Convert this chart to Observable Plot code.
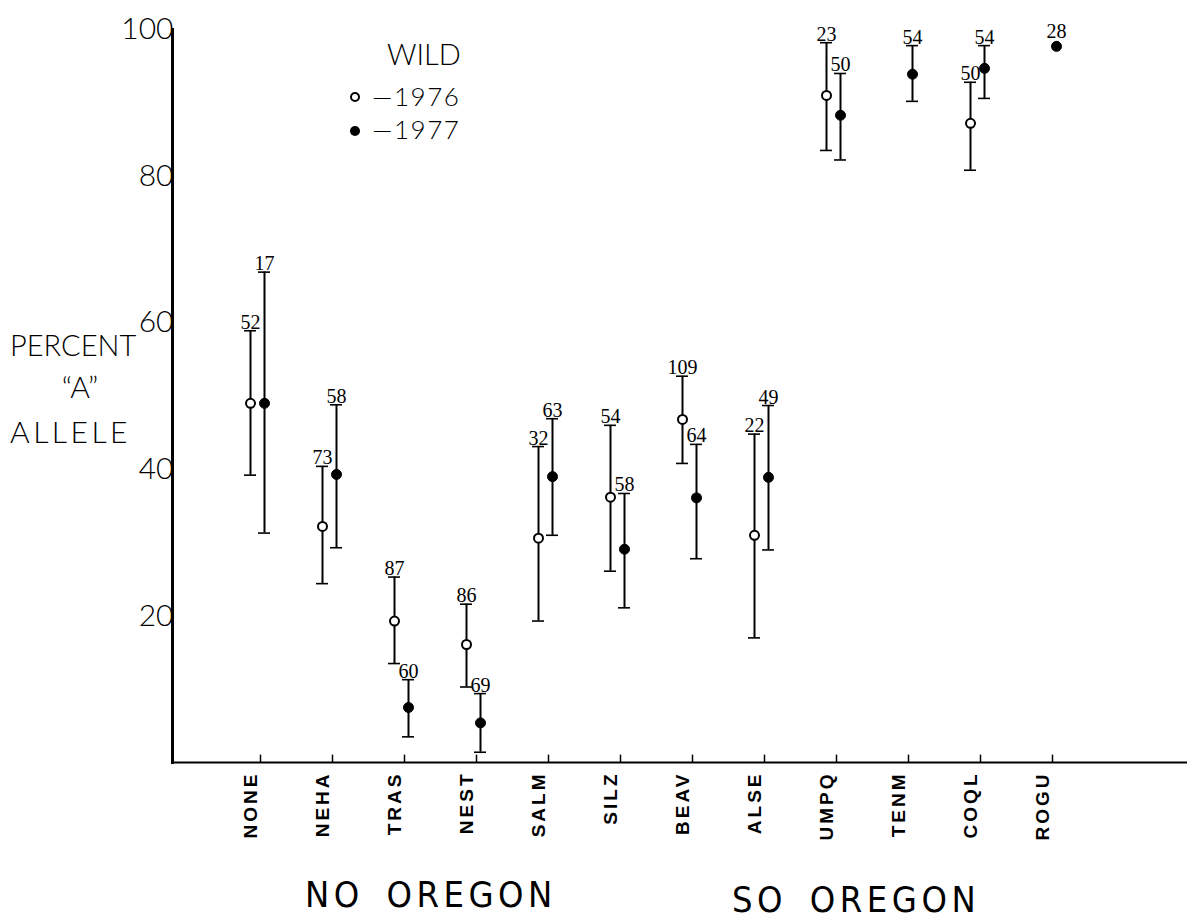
<!DOCTYPE html>
<html><head><meta charset="utf-8">
<script src="https://cdn.jsdelivr.net/npm/d3@7"></script>
<script src="https://cdn.jsdelivr.net/npm/@observablehq/plot@0.6"></script>
<style>
body{margin:0;background:#fff;}
#wrap{position:relative;width:1187px;height:921px;overflow:hidden;}
#wrap svg{position:absolute;left:0;top:0;}
#wrap svg.overlay{pointer-events:none;}
</style></head><body><div id="wrap"></div>
<script>
// Sites (x categories)
const categories = ["NONE","NEHA","TRAS","NEST","SALM","SILZ","BEAV","ALSE","UMPQ","TENM","COQL","ROGU"];
// Wild 1976: percent "A" allele, interval low/high, sample size
const mean1976 = [49.0, 32.2, 19.3, 16.1, 30.6, 36.2, 46.8, 31.0, 91.0, null, 87.2, null];
const low1976  = [39.2, 24.4, 13.5, 10.3, 19.3, 26.1, 40.8, 17.0, 83.5, null, 80.8, null];
const high1976 = [58.9, 40.4, 25.3, 21.6, 43.1, 46.0, 52.7, 44.8, 98.2, null, 92.8, null];
const n1976    = [52, 73, 87, 86, 32, 54, 109, 22, 23, null, 50, null];
// Wild 1977
const mean1977 = [49.0, 39.3, 7.5, 5.4, 39.0, 29.1, 36.1, 38.9, 88.3, 93.9, 94.7, 97.7];
const low1977  = [31.3, 29.3, 3.5, 1.4, 31.0, 21.1, 27.8, 29.0, 82.2, 90.2, 90.6, null];
const high1977 = [66.9, 48.8, 11.3, 9.4, 46.9, 36.7, 43.4, 48.7, 94.0, 97.8, 97.8, null];
const n1977    = [17, 58, 60, 69, 63, 58, 64, 49, 50, 54, 54, 28];
// y tick labels
const yTicks = [20, 40, 60, 80, 100];

function build(year, mean, low, high, n) {
  const out = [];
  categories.forEach((c, i) => {
    if (mean[i] != null) out.push({site: c, year, v: mean[i], lo: low[i], hi: high[i], n: n[i]});
  });
  return out;
}
const r76 = build(1976, mean1976, low1976, high1976, n1976);
const r77 = build(1977, mean1977, low1977, high1977, n1977);
const hasBar = d => d.hi != null;

function seriesMarks(rows, dx, open) {
  const bars = rows.filter(hasBar);
  return [
    Plot.ruleX(bars, {x: "site", y1: "lo", y2: "hi", dx, stroke: "black", strokeWidth: 2}),
    Plot.ruleY(bars, {x1: "site", x2: "site", y: "hi", dx, insetLeft: -6, insetRight: -6, stroke: "black", strokeWidth: 1.6}),
    Plot.ruleY(bars, {x1: "site", x2: "site", y: "lo", dx, insetLeft: -6, insetRight: -6, stroke: "black", strokeWidth: 1.6}),
    Plot.dot(rows, {x: "site", y: "v", dx, r: open ? 4.5 : 5, fill: open ? "white" : "black", stroke: "black", strokeWidth: open ? 2 : 1}),
    Plot.text(bars, {x: "site", y: "hi", dx, dy: -2, text: d => String(d.n), lineAnchor: "bottom",
      fontSize: 20, fontFamily: "Liberation Serif, DejaVu Serif, serif", fill: "black"}),
    Plot.text(rows.filter(d => !hasBar(d)), {x: "site", y: "v", dx, dy: -8, text: d => String(d.n), lineAnchor: "bottom",
      fontSize: 20, fontFamily: "Liberation Serif, DejaVu Serif, serif", fill: "black"})
  ];
}

const thin = "Lato, 'Noto Sans', 'DejaVu Sans', sans-serif";

const chart = Plot.plot({
  width: 1187, height: 921,
  marginLeft: 172, marginRight: 0, marginTop: 29, marginBottom: 159,
  style: {background: "white", color: "black"},
  x: {type: "point", domain: categories, padding: 1.49, align: 0.393},
  y: {domain: [0, 100]},
  marks: [
    Plot.axisY({ticks: yTicks, tickSize: 0, tickPadding: -1, label: null,
      fontSize: 30, fontWeight: 300, fontFamily: thin}),
    Plot.axisX({tickSize: 0, tickRotate: -90, tickPadding: 9, dx: -10, label: null,
      fontSize: 19, fontWeight: "bold", fontFamily: "Liberation Sans, Arial, sans-serif"}),
    Plot.ruleX(categories, {x: d => d, y1: 0, y2: 1, stroke: "black", strokeWidth: 1.5}),
    Plot.ruleY([0], {stroke: "black", strokeWidth: 2}),
    Plot.frame({anchor: "left", stroke: "black", strokeWidth: 3}),
    ...seriesMarks(r76, -10, true),
    ...seriesMarks(r77, 4, false)
  ]
});
const wrap = document.getElementById("wrap");
wrap.appendChild(chart);
// widen the spaced-out rotated site labels
d3.select(chart).selectAll('g[aria-label="x-axis tick label"] text').style("letter-spacing", "3px");

// Annotations: legend, y-axis title, group captions
const ov = d3.select(wrap).append("svg").attr("class", "overlay")
  .attr("width", 1187).attr("height", 921);
const T = (x, y, s, size, fam, extra = {}) => {
  const t = ov.append("text").attr("x", x).attr("y", y).text(s)
    .attr("font-size", size).attr("font-family", fam).attr("fill", "black");
  for (const k in extra) t.attr(k, extra[k]);
  return t;
};
T(387, 65, "WILD", 29, thin, {"font-weight": 300});
ov.append("circle").attr("cx", 355).attr("cy", 97).attr("r", 4).attr("fill", "white").attr("stroke", "black").attr("stroke-width", 2);
T(372, 106, "—1976", 26, thin, {"font-weight": 300, "letter-spacing": "1.5px"});
ov.append("circle").attr("cx", 355).attr("cy", 131).attr("r", 5).attr("fill", "black");
T(372, 139, "—1977", 26, thin, {"font-weight": 300, "letter-spacing": "1.5px"});

T(10, 356, "PERCENT", 29, thin, {"font-weight": 300});
T(80, 398, "“A”", 30, thin, {"font-weight": 300, "text-anchor": "middle"});
T(10, 443, "ALLELE", 30, thin, {"font-weight": 300, "letter-spacing": "3.5px"});

const cond = "'Liberation Sans Narrow', 'DejaVu Sans Condensed', 'Liberation Sans', sans-serif";
T(305, 907, "NO OREGON", 36, cond, {"letter-spacing": "4.5px", "word-spacing": "8px"});
T(732, 912, "SO OREGON", 36, cond, {"letter-spacing": "4.5px", "word-spacing": "8px"});
</script></body></html>
